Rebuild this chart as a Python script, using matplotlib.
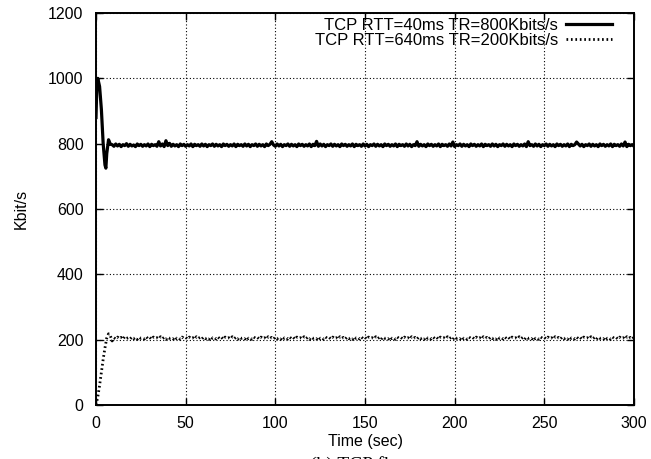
import numpy as np
import matplotlib
matplotlib.use("Agg")
import matplotlib.pyplot as plt

plt.rcParams['font.family'] = ['Liberation Sans', 'DejaVu Sans']

# ---- data ----
label1 = "TCP RTT=40ms TR=800Kbits/s"
label2 = "TCP RTT=640ms TR=200Kbits/s"

t1_start = [0, 0.5, 1, 2, 3, 4, 5, 5.5, 6, 7, 8]
v1_start = [880, 985, 1000, 975, 905, 800, 735, 725, 770, 812, 798]
v1_steady = [
    797, 792, 799, 793, 798, 791, 797, 794, 800, 792, 798, 793, 796, 791, 799, 794, 798, 792, 797, 793,
    799, 791, 798, 794, 797, 792, 806, 793, 799, 791, 809, 794, 801, 792, 798, 793, 797, 791, 799, 794,
    798, 792, 797, 793, 799, 791, 798, 794, 797, 792, 799, 793, 798, 791, 797, 794, 799, 792, 798, 793,
    797, 791, 799, 794, 798, 792, 797, 793, 799, 791, 798, 794, 797, 792, 799, 793, 798, 791, 797, 794,
    799, 792, 798, 793, 797, 791, 799, 794, 798, 806, 796, 792, 799, 793, 798, 791, 797, 794, 799, 792,
    798, 793, 797, 791, 799, 794, 798, 792, 797, 793, 799, 791, 798, 794, 807, 792, 799, 793, 798, 791,
    797, 794, 799, 792, 798, 793, 797, 791, 799, 794, 798, 792, 797, 793, 799, 791, 798, 794, 797, 792,
    799, 793, 798, 791, 797, 794, 799, 792, 798, 793, 797, 791, 799, 794, 798, 792, 797, 793, 799, 791,
    798, 794, 797, 792, 799, 793, 798, 791, 797, 794, 806, 792, 798, 793, 797, 791, 799, 794, 798, 792,
    797, 793, 799, 791, 798, 794, 797, 792, 799, 793, 805, 791, 797, 794, 799, 792, 798, 793, 797, 791,
    799, 794, 798, 792, 797, 793, 799, 791, 798, 794, 797, 792, 799, 793, 798, 791, 797, 794, 799, 792,
    798, 793, 797, 791, 799, 794, 798, 792, 797, 793, 799, 791, 806, 794, 797, 792, 799, 793, 798, 791,
    797, 794, 799, 792, 798, 793, 797, 791, 799, 794, 798, 792, 797, 793, 799, 791, 798, 794, 797, 805,
    799, 793, 798, 791, 797, 794, 799, 792, 798, 793, 797, 791, 799, 794, 798, 792, 797, 793, 799, 791,
    798, 794, 797, 792, 799, 793, 805, 791, 798, 794, 797, 792,
]

t2_start = [0, 1, 2, 3, 4, 5, 6, 7, 8]
v2_start = [0, 25, 60, 100, 140, 175, 205, 218, 212]
v2_steady = [
    196, 206, 202, 208, 203, 207, 201, 209, 204, 206, 202, 208, 203, 207, 201, 208, 204, 206, 202, 209,
    203, 207, 201, 208, 204, 206, 202, 209, 203, 207, 201, 208, 204, 206, 202, 209, 203, 206, 201, 208,
    204, 207, 202, 208, 203, 206, 201, 209, 204, 207, 202, 208, 203, 206, 201, 209, 204, 207, 202, 208,
    203, 207, 201, 208, 204, 206, 202, 209, 203, 207, 201, 208, 204, 206, 202, 209, 203, 206, 201, 208,
    204, 207, 202, 208, 203, 206, 201, 209, 204, 207, 202, 208, 203, 206, 201, 209, 204, 207, 202, 208,
    203, 207, 201, 208, 204, 206, 202, 209, 203, 207, 201, 208, 204, 206, 202, 209, 203, 206, 201, 208,
    204, 207, 202, 208, 203, 206, 201, 209, 204, 207, 202, 208, 203, 206, 201, 209, 204, 207, 202, 208,
    203, 207, 201, 208, 204, 206, 202, 209, 203, 207, 201, 208, 204, 206, 202, 209, 203, 206, 201, 208,
    204, 207, 202, 208, 203, 206, 201, 209, 204, 207, 202, 208, 203, 206, 201, 209, 204, 207, 202, 208,
    203, 207, 201, 208, 204, 206, 202, 209, 203, 207, 201, 208, 204, 206, 202, 209, 203, 206, 201, 208,
    204, 207, 202, 208, 203, 206, 201, 209, 204, 207, 202, 208, 203, 206, 201, 209, 204, 207, 202, 208,
    203, 207, 201, 208, 204, 206, 202, 209, 203, 207, 201, 208, 204, 206, 202, 209, 203, 206, 201, 208,
    204, 207, 202, 208, 203, 206, 201, 209, 204, 207, 202, 208, 203, 206, 201, 209, 204, 207, 202, 208,
    203, 207, 201, 208, 204, 206, 202, 209, 203, 207, 201, 208, 204, 206, 202, 209, 203, 206, 201, 208,
    204, 207, 202, 208, 203, 206, 201, 209, 204, 207, 202, 208,
]

x_ticks = [0, 50, 100, 150, 200, 250, 300]
y_ticks = [0, 200, 400, 600, 800, 1000, 1200]

# ---- build series ----
t_steady = np.arange(9, 9 + len(v1_steady))
t1 = np.concatenate([t1_start, t_steady])
v1 = np.concatenate([v1_start, v1_steady])
t2 = np.concatenate([t2_start, np.arange(9, 9 + len(v2_steady))])
v2 = np.concatenate([v2_start, v2_steady])

fig = plt.figure(figsize=(6.51, 4.59), dpi=100)
ax = fig.add_axes([96/651, 54/459, 538/651, 392/459])

ax.plot(t1, v1, color='black', lw=2.3, label=label1)
ax.plot(t2, v2, color='black', lw=2.0, linestyle=(0, (0.6, 1.0)), label=label2)

ax.set_xlim(0, 300)
ax.set_ylim(0, 1200)
ax.set_xticks(x_ticks)
ax.set_yticks(y_ticks)
ax.tick_params(direction='in', length=5, width=1.0, top=True, right=True,
               labelsize=11.5, colors='black')
ax.tick_params(axis='y', pad=9)
ax.tick_params(axis='x', pad=8)
ax.grid(True, linestyle=(0, (1, 2)), color='black', lw=0.8)
for s in ax.spines.values():
    s.set_linewidth(1.4)

ax.set_xlabel("Time (sec)", fontsize=11.5, labelpad=2)
ax.set_ylabel("Kbit/s", fontsize=11.5, labelpad=14)

leg = ax.legend(loc='upper right', bbox_to_anchor=(0.959, 0.987), frameon=False,
                markerfirst=False, fontsize=12, handlelength=2.75, handletextpad=0.5,
                labelspacing=0.0, borderpad=0, borderaxespad=0)

fig.text(365/651, 3/459, "(b) TCP flows", family=['Liberation Serif', 'DejaVu Serif'],
         fontsize=14, ha='center', va='top')

fig.savefig("out.png", dpi=100)
